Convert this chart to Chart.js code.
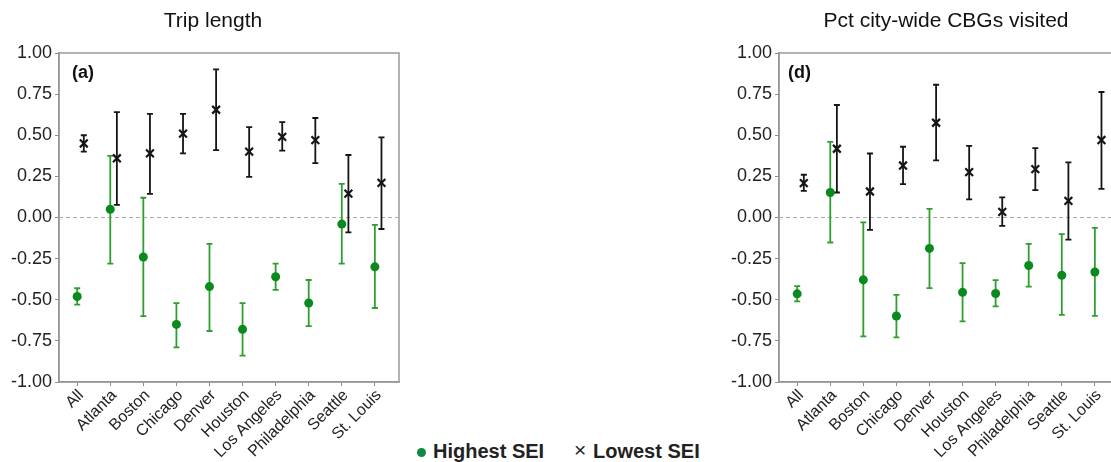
<!DOCTYPE html>
<html>
<head>
<meta charset="utf-8">
<script src="https://cdn.jsdelivr.net/npm/chart.js@4"></script>
<style>
  body { margin: 0; width: 1111px; height: 462px; overflow: hidden; background: #fff;
         position: relative; font-family: "Liberation Sans", Arial, sans-serif; color: #111; }
  .panel { position: absolute; top: 0; width: 410px; height: 462px; }
  .txt { position: absolute; white-space: nowrap; }
  .title { top: 9px; font-size: 21px; line-height: 21px; transform: translateX(-50%); }
  .tag { top: 63px; font-size: 18px; line-height: 18px; font-weight: bold; }
  .leg { top: 441px; font-size: 20px; line-height: 20px; font-weight: bold; color: #222; }
  .dot { position: absolute; left: 417px; top: 448px; width: 9px; height: 9px; border-radius: 50%; background: #118844; }
</style>
</head>
<body>

<div class="panel" style="left:0"><canvas id="tripChart"></canvas></div>
<div class="panel" style="left:720px"><canvas id="cbgChart"></canvas></div>

<div class="txt title" style="left:213px">Trip length</div>
<div class="txt title" style="left:946px">Pct city-wide CBGs visited</div>
<div class="txt tag" style="left:72px">(a)</div>
<div class="txt tag" style="left:788px">(d)</div>

<div class="dot"></div>
<div class="txt leg" style="left:433px">Highest SEI</div>
<div class="txt leg" style="left:574px;font-weight:normal;font-size:21px;top:440px">×</div>
<div class="txt leg" style="left:593px">Lowest SEI</div>

<script>
// ── DATA ────────────────────────────────────────────────────────────
var cities = ["All", "Atlanta", "Boston", "Chicago", "Denver", "Houston",
              "Los Angeles", "Philadelphia", "Seattle", "St. Louis"];
var yTicks = [-1, -0.75, -0.5, -0.25, 0, 0.25, 0.5, 0.75, 1];

// Trip length
var tripHighMean = [-0.48, 0.05, -0.24, -0.65, -0.42, -0.68, -0.36, -0.52, -0.04, -0.30];
var tripHighLo   = [-0.53, -0.28, -0.60, -0.79, -0.69, -0.84, -0.44, -0.66, -0.28, -0.55];
var tripHighHi   = [-0.43, 0.375, 0.12, -0.52, -0.16, -0.52, -0.28, -0.38, 0.205, -0.045];
var tripLowMean  = [0.45, 0.36, 0.39, 0.51, 0.655, 0.40, 0.49, 0.47, 0.145, 0.21];
var tripLowLo    = [0.40, 0.077, 0.144, 0.39, 0.41, 0.247, 0.406, 0.33, -0.09, -0.07];
var tripLowHi    = [0.50, 0.64, 0.63, 0.63, 0.90, 0.55, 0.58, 0.605, 0.38, 0.487];

// Pct city-wide CBGs visited
var cbgHighMean = [-0.464, 0.152, -0.379, -0.599, -0.188, -0.455, -0.462, -0.292, -0.351, -0.331];
var cbgHighLo   = [-0.51, -0.152, -0.723, -0.729, -0.429, -0.632, -0.54, -0.42, -0.592, -0.598];
var cbgHighHi   = [-0.417, 0.46, -0.03, -0.47, 0.053, -0.277, -0.381, -0.16, -0.101, -0.063];
var cbgLowMean  = [0.209, 0.418, 0.158, 0.316, 0.576, 0.276, 0.034, 0.294, 0.101, 0.471];
var cbgLowLo    = [0.162, 0.152, -0.075, 0.203, 0.347, 0.110, -0.051, 0.166, -0.134, 0.174];
var cbgLowHi    = [0.26, 0.684, 0.389, 0.43, 0.807, 0.436, 0.122, 0.422, 0.335, 0.763];

// ── STYLE ───────────────────────────────────────────────────────────
var FONT = "'Liberation Sans', Arial, sans-serif";
var GREEN_DOT = "#0a8a1e";
var GREEN_BAR = "#2f9e2f";
var BLACK = "#151515";
var AXIS = "#8c8c8c";
var LOW_SHIFT = 0.2;    // lowest-SEI markers sit a bit right of the tick

// ── ERROR BARS + FRAME ──────────────────────────────────────────────
var errorBars = {
    id: "errorBars",
    beforeDatasetsDraw: function (chart) {
        var ctx = chart.ctx, a = chart.chartArea;
        var x = chart.scales.x, y = chart.scales.y;
        ctx.save();
        ctx.strokeStyle = "#9a9a9a";
        ctx.lineWidth = 1.5;
        ctx.strokeRect(a.left, a.top, a.right - a.left, a.bottom - a.top);

        var y0 = y.getPixelForValue(0);
        ctx.setLineDash([4, 3]);
        ctx.strokeStyle = "#ababab";
        ctx.lineWidth = 1;
        ctx.beginPath();
        ctx.moveTo(a.left, y0);
        ctx.lineTo(a.right, y0);
        ctx.stroke();
        ctx.setLineDash([]);

        chart.data.datasets.forEach(function (ds) {
            ctx.strokeStyle = ds.barColor;
            ctx.lineWidth = 1.8;
            ds.data.forEach(function (p, i) {
                var px = x.getPixelForValue(p.x);
                var top = y.getPixelForValue(ds.hi[i]);
                var bot = y.getPixelForValue(ds.lo[i]);
                ctx.beginPath();
                ctx.moveTo(px, top); ctx.lineTo(px, bot);
                ctx.moveTo(px - 3, top); ctx.lineTo(px + 3, top);
                ctx.moveTo(px - 3, bot); ctx.lineTo(px + 3, bot);
                ctx.stroke();
            });
        });
        ctx.restore();
    }
};

// ── CREATE A CHART ──────────────────────────────────────────────────
function points(vals, shift) {
    return vals.map(function (v, i) { return { x: i + shift, y: v }; });
}

function makeChart(id, hMean, hLo, hHi, lMean, lLo, lHi) {
    return new Chart(document.getElementById(id), {
        type: "scatter",
        data: {
            datasets: [
                {
                    label: "Highest SEI",
                    data: points(hMean, 0),
                    lo: hLo, hi: hHi, barColor: GREEN_BAR,
                    pointStyle: "circle", pointRadius: 4.5,
                    backgroundColor: GREEN_DOT, borderWidth: 0
                },
                {
                    label: "Lowest SEI",
                    data: points(lMean, LOW_SHIFT),
                    lo: lLo, hi: lHi, barColor: BLACK,
                    pointStyle: "crossRot", pointRadius: 5.5,
                    borderColor: BLACK, borderWidth: 2.2
                }
            ]
        },
        options: {
            responsive: true,
            maintainAspectRatio: false,
            animation: false,
            devicePixelRatio: 1,
            layout: { padding: { left: 0, right: 11, top: 53, bottom: 0 } },
            plugins: { legend: { display: false }, tooltip: { enabled: false } },
            scales: {
                x: {
                    type: "linear", min: -0.55, max: 9.73,
                    afterBuildTicks: function (s) {
                        s.ticks = cities.map(function (c, i) { return { value: i }; });
                    },
                    afterFit: function (s) { s.height = 80; },
                    ticks: {
                        autoSkip: false, minRotation: 45, maxRotation: 45,
                        padding: 0, labelOffset: 4,
                        color: "#222", font: { family: FONT, size: 16 },
                        callback: function (v) { return cities[v]; }
                    },
                    grid: { drawOnChartArea: false, tickLength: 4, color: AXIS },
                    border: { color: AXIS, width: 1.5 }
                },
                y: {
                    min: -1, max: 1,
                    afterBuildTicks: function (s) {
                        s.ticks = yTicks.map(function (v) { return { value: v }; });
                    },
                    afterFit: function (s) { s.width = 59; },
                    ticks: {
                        padding: 3, color: "#222", font: { family: FONT, size: 18 },
                        callback: function (v) { return v.toFixed(2); }
                    },
                    grid: { drawOnChartArea: false, tickLength: 4, color: AXIS },
                    border: { color: AXIS, width: 1.5 }
                }
            }
        },
        plugins: [errorBars]
    });
}

makeChart("tripChart", tripHighMean, tripHighLo, tripHighHi, tripLowMean, tripLowLo, tripLowHi);
makeChart("cbgChart", cbgHighMean, cbgHighLo, cbgHighHi, cbgLowMean, cbgLowLo, cbgLowHi);
</script>
</body>
</html>
